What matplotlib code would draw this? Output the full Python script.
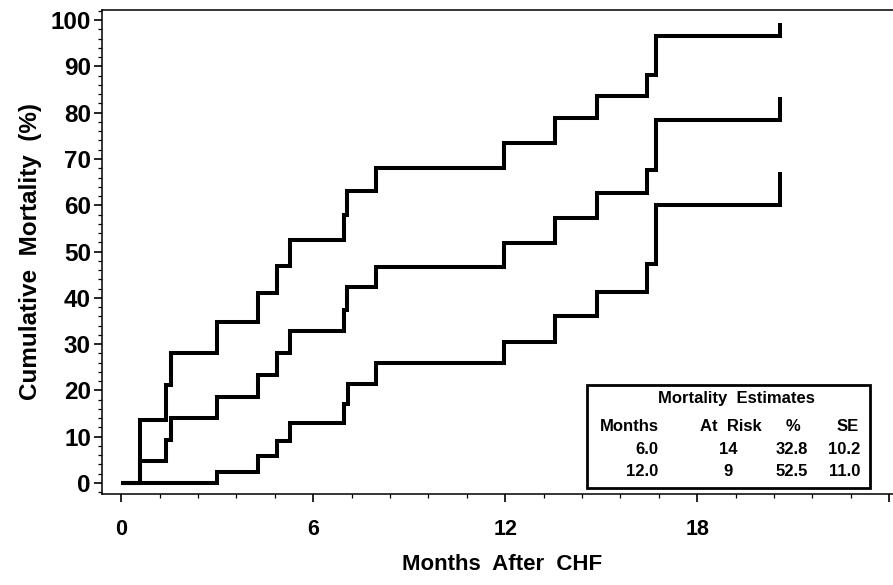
import matplotlib.pyplot as plt
from matplotlib.patches import Rectangle
from matplotlib.ticker import MultipleLocator

# step curves (months, cumulative mortality %)
months_upper = [0, 0.59, 1.4, 1.57, 3.0, 4.29, 4.88, 5.28, 6.97, 7.05, 7.97, 11.95, 13.55, 14.86, 16.43, 16.72, 20.6]
mort_upper = [0, 13.6, 21.2, 28.1, 34.8, 41.0, 46.9, 52.5, 57.9, 63.1, 68.1, 73.5, 78.8, 83.6, 88.1, 96.5, 99.3]

months_mid = [0, 0.59, 1.4, 1.57, 3.0, 4.29, 4.88, 5.28, 6.97, 7.05, 7.97, 11.95, 13.55, 14.86, 16.43, 16.72, 20.6]
mort_mid = [0, 4.75, 9.3, 14.0, 18.6, 23.3, 28.1, 32.9, 37.4, 42.4, 46.7, 51.8, 57.2, 62.6, 67.6, 78.4, 83.4]

months_lower = [0, 3.0, 4.29, 4.88, 5.28, 6.97, 7.08, 7.97, 11.95, 13.57, 14.87, 16.43, 16.72, 20.6]
mort_lower = [0, 2.4, 5.8, 9.1, 13.0, 17.1, 21.4, 26.0, 30.5, 36.1, 41.3, 47.2, 60.0, 67.2]

# mortality estimates table
est_months = ["6.0", "12.0"]
est_at_risk = ["14", "9"]
est_pct = ["32.8", "52.5"]
est_se = ["10.2", "11.0"]

x_ticks = [0, 6, 12, 18, 24]
x_tick_labels = ["0", "6", "12", "18", ""]
y_ticks = list(range(0, 101, 10))

plt.rcParams["font.family"] = ["Liberation Sans", "DejaVu Sans"]
plt.rcParams["font.weight"] = "bold"

W, H = 893, 585
fig = plt.figure(figsize=(W / 100, H / 100), dpi=100)
ax = fig.add_axes([102 / W, 1 - 494 / H, 800 / W, 484 / H])


def fx(px):
    return px / W


def fy(py):
    return 1 - py / H


for t, m in [(months_upper, mort_upper), (months_mid, mort_mid), (months_lower, mort_lower)]:
    ax.step(t, m, where="post", color="black", lw=2.9,
            solid_joinstyle="miter", solid_capstyle="butt")

ax.set_xlim(-0.6, 24.4)
ax.set_ylim(-2.4, 102.2)
ax.set_xticks(x_ticks)
ax.set_xticklabels(x_tick_labels)
ax.set_yticks(y_ticks)
ax.xaxis.set_minor_locator(MultipleLocator(1.2))
ax.yaxis.set_minor_locator(MultipleLocator(2))
ax.tick_params(which="major", length=6, width=1.2, labelsize=17.5, pad=2)
ax.tick_params(axis="x", which="major", labelsize=15.5, pad=12)
ax.tick_params(which="minor", length=3, width=0.9)
for lab in ax.get_xticklabels() + ax.get_yticklabels():
    lab.set_fontweight("bold")
for s in ax.spines.values():
    s.set_linewidth(1.1)

ax.set_xlabel("Months  After  CHF", fontsize=16, fontweight="bold", labelpad=10)
ax.set_ylabel("Cumulative  Mortality  (%)", fontsize=17.5, fontweight="bold", labelpad=6)

# estimates box
box = Rectangle((fx(587), fy(488)), fx(870) - fx(587), fy(385) - fy(488),
                transform=fig.transFigure, facecolor="white", edgecolor="black",
                lw=2.0, zorder=5)
fig.add_artist(box)

fs = 12
fig.text(fx(736), fy(398), "Mortality  Estimates", ha="center", va="center",
         fontsize=fs, fontweight="bold", zorder=6)
row_y = 426.5
fig.text(fx(659), fy(row_y), "Months", ha="right", va="center", fontsize=fs, fontweight="bold", zorder=6)
fig.text(fx(731), fy(row_y), "At  Risk", ha="center", va="center", fontsize=fs, fontweight="bold", zorder=6)
fig.text(fx(793), fy(row_y), "%", ha="center", va="center", fontsize=fs, fontweight="bold", zorder=6)
fig.text(fx(859), fy(row_y), "SE", ha="right", va="center", fontsize=fs, fontweight="bold", zorder=6)
for i in range(len(est_months)):
    yy = fy(450 + i * 21.7)
    fig.text(fx(658), yy, est_months[i], ha="right", va="center", fontsize=fs, fontweight="bold", zorder=6)
    fig.text(fx(728), yy, est_at_risk[i], ha="center", va="center", fontsize=fs, fontweight="bold", zorder=6)
    fig.text(fx(808), yy, est_pct[i], ha="right", va="center", fontsize=fs, fontweight="bold", zorder=6)
    fig.text(fx(860), yy, est_se[i], ha="right", va="center", fontsize=fs, fontweight="bold", zorder=6)

fig.savefig("out.png", dpi=100)
